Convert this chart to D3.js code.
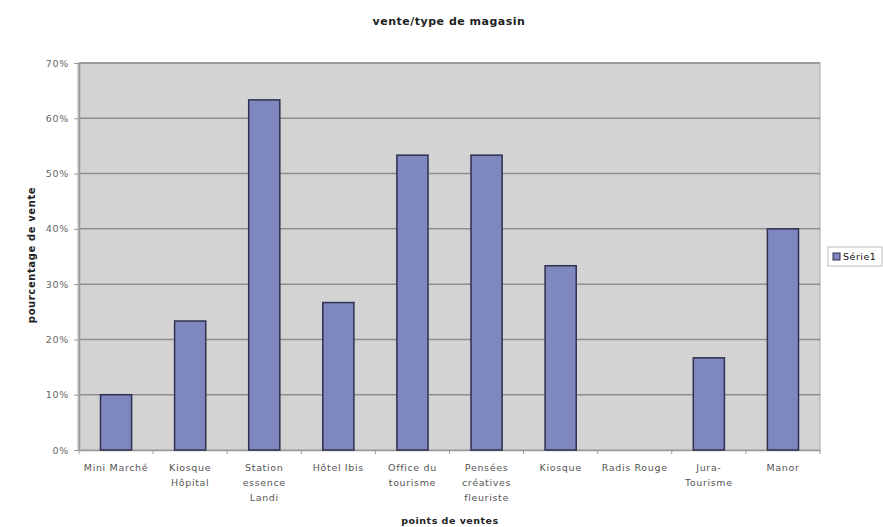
<!DOCTYPE html>
<html><head><meta charset="utf-8">
<script src="https://cdn.jsdelivr.net/npm/d3@7"></script>
<style>
body{margin:0;background:#fff;}
svg{display:block;font-family:"DejaVu Sans",sans-serif;}
</style></head>
<body>
<svg id="c" width="883" height="527"></svg>
<script>
const categories = ["Mini Marché","Kiosque\nHôpital","Station\nessence\nLandi","Hôtel Ibis","Office du\ntourisme","Pensées\ncréatives\nfleuriste","Kiosque","Radis Rouge","Jura-\nTourisme","Manor"];
const values = [0.10,0.2333,0.6333,0.2667,0.5333,0.5333,0.3333,0,0.1667,0.40];
const yTicks = [0,0.1,0.2,0.3,0.4,0.5,0.6,0.7];
const seriesName = "Série1";
const title = "vente/type de magasin";
const xTitle = "points de ventes";
const yTitle = "pourcentage de vente";

const FONT = "DejaVu Sans, sans-serif";
const svg = d3.select("#c");
const L=79,R=820,T=63,B=450;
const x = d3.scaleBand().domain(categories).range([L,R]).paddingInner(0.58).paddingOuter(0.29);
const y = d3.scaleLinear().domain([0,0.7]).range([B,T]);

svg.append("rect").attr("x",L).attr("y",T).attr("width",R-L).attr("height",B-T)
  .attr("fill","#d3d3d3").attr("stroke","#a8a8a8").attr("stroke-width",1);
svg.append("line").attr("x1",L).attr("x2",L).attr("y1",T).attr("y2",B).attr("stroke","#b4b4b4").attr("stroke-width",3);

// gridlines
svg.append("g").selectAll("line").data(yTicks.slice(1)).join("line")
  .attr("x1",L).attr("x2",R).attr("y1",d=>y(d)).attr("y2",d=>y(d))
  .attr("stroke","#8e8e8e").attr("stroke-width",1.5);

// y axis
const ya = svg.append("g").attr("transform",`translate(${L},0)`)
  .call(d3.axisLeft(y).tickValues(yTicks).tickFormat(d3.format(".0%")).tickSize(5).tickPadding(5));
ya.select(".domain").attr("stroke","#999");
ya.selectAll(".tick line").attr("stroke","#999");
ya.selectAll("text").attr("fill","#666").attr("font-size",9.5).attr("font-family",FONT).attr("letter-spacing",0.7);

// x axis
const xa = svg.append("g").attr("transform",`translate(0,${B})`)
  .call(d3.axisBottom(x).tickSize(0).tickFormat(""));
xa.select(".domain").attr("stroke","#999").attr("stroke-width",1.5);
const step = x.step();
svg.append("g").selectAll("line").data(d3.range(categories.length+1)).join("line")
  .attr("x1",i=>L+i*step).attr("x2",i=>L+i*step).attr("y1",B).attr("y2",B+4).attr("stroke","#999");
const lab = svg.append("g").selectAll("text").data(categories).join("text")
  .attr("x",d=>x(d)+x.bandwidth()/2).attr("y",B+21)
  .attr("text-anchor","middle").attr("font-size",9.5).attr("letter-spacing",0.65).attr("fill","#555");
lab.each(function(d){
  const t=d3.select(this);
  d.split("\n").forEach((s,i)=>t.append("tspan").attr("x",x(d)+x.bandwidth()/2).attr("dy",i?15:0).text(s));
});

// bars
svg.append("g").selectAll("rect").data(values).join("rect")
  .attr("x",(d,i)=>x(categories[i])).attr("width",x.bandwidth())
  .attr("y",d=>y(d)).attr("height",d=>B-y(d))
  .attr("fill","#7f87bf").attr("stroke","#2f2f4f").attr("stroke-width",1.5)
  .attr("display",d=>d>0?null:"none");

// titles
svg.append("text").attr("x",449).attr("y",25).attr("text-anchor","middle")
  .attr("font-size",11).attr("letter-spacing",0.5).attr("font-weight","bold").attr("fill","#222").text(title);
svg.append("text").attr("x",450).attr("y",524).attr("text-anchor","middle")
  .attr("font-size",9.5).attr("letter-spacing",0.5).attr("font-weight","bold").attr("fill","#222").text(xTitle);
svg.append("text").attr("transform","translate(35,255) rotate(-90)").attr("text-anchor","middle")
  .attr("font-size",10).attr("letter-spacing",0.6).attr("font-weight","bold").attr("fill","#222").text(yTitle);

// legend
const lg = svg.append("g").attr("transform","translate(828,247)");
lg.append("rect").attr("width",54).attr("height",19).attr("fill","#fff").attr("stroke","#bbb");
lg.append("rect").attr("x",5).attr("y",6).attr("width",7).attr("height",7).attr("fill","#7f87bf").attr("stroke","#2f2f4f");
lg.append("text").attr("x",15).attr("y",13).attr("font-size",9.5).attr("letter-spacing",0.5).attr("fill","#111").text(seriesName);
</script>
</body></html>
